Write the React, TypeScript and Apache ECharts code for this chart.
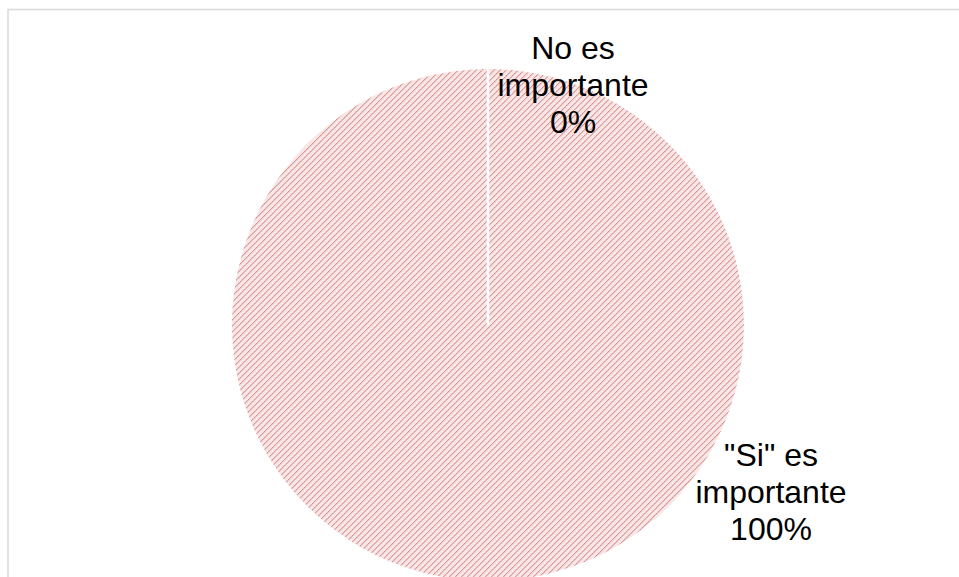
import React, { useEffect, useRef } from "react";
import * as echarts from "echarts";

const categories = ["No es\nimportante", "\"Si\" es\nimportante"];
const values = [0, 100];

function makePattern(): string {
  const size = 6;
  const c = document.createElement("canvas");
  c.width = size;
  c.height = size;
  const ctx = c.getContext("2d")!;
  ctx.fillStyle = "#f8e6e6";
  ctx.fillRect(0, 0, size, size);
  for (let y = 0; y < size; y++) {
    for (let x = 0; x < size; x++) {
      const k = (x + y) % size;
      if (k === 5) {
        ctx.fillStyle = (x % 2 === 0) ? "#d88f8f" : "#e0a4a4";
        ctx.fillRect(x, y, 1, 1);
      } else if (k === 0) {
        ctx.fillStyle = "#ecc3c3";
        ctx.fillRect(x, y, 1, 1);
      }
    }
  }
  return c.toDataURL();
}

export default function App() {
  const ref = useRef<HTMLDivElement>(null);
  useEffect(() => {
    if (!ref.current) return;
    const chart = echarts.init(ref.current, undefined, { renderer: "svg" });
    const pattern = { image: makePattern(), repeat: "repeat" } as any;
    const cx = 488;
    const cy = 325;
    const r = 256;
    const labelPos = [
      { x: 573, y: 85 },
      { x: 771, y: 492 },
    ];
    chart.setOption({
      animation: false,
      backgroundColor: "#ffffff",
      graphic: [
        {
          type: "rect",
          shape: { x: 8, y: 9.5, width: 1000, height: 1000 },
          style: { fill: "none", stroke: "#d9d9d9", lineWidth: 1.5 },
          z: 0,
        },
        {
          type: "line",
          shape: { x1: cx, y1: cy, x2: cx, y2: cy - r },
          style: { stroke: "#ffffff", lineWidth: 2.5 },
          z: 100,
        },
      ],
      series: [
        {
          type: "pie",
          center: [cx, cy],
          radius: r,
          startAngle: 90,
          clockwise: true,
          minAngle: 0,
          itemStyle: { color: pattern, borderWidth: 0 },
          label: {
            show: true,
            formatter: "{b}\n{d}%",
            fontFamily: "'Liberation Sans', Arial, sans-serif",
            fontSize: 32,
            lineHeight: 37,
            color: "#000000",
            align: "center",
          },
          labelLine: { show: false },
          labelLayout: (params: any) => {
            const p = labelPos[params.dataIndex];
            return { x: p.x, y: p.y, align: "center", verticalAlign: "middle" };
          },
          emphasis: { disabled: true },
          data: categories.map((name, i) => ({ name, value: values[i] })),
        },
      ],
    });
    return () => chart.dispose();
  }, []);
  return (
    <div
      ref={ref}
      style={{ position: "fixed", left: 0, top: 0, width: 959, height: 577 }}
    />
  );
}
